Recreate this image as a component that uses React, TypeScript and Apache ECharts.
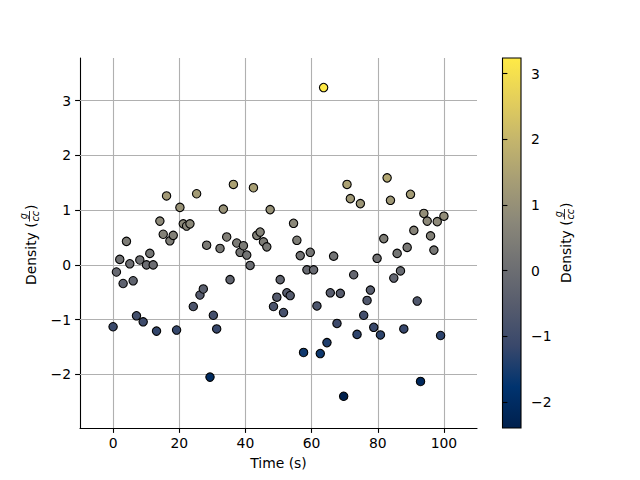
import React, { useEffect, useRef } from "react";
import * as echarts from "echarts";

const densityValues: number[] = [
  -1.13, -0.13, 0.10, -0.34, 0.43, 0.02, -0.29, -0.93, 0.09, -1.04,
  0.00, 0.21, 0.00, -1.21, 0.80, 0.56, 1.26, 0.44, 0.54, -1.19,
  1.05, 0.75, 0.71, 0.75, -0.76, 1.30, -0.55, -0.44, 0.36, -2.05,
  -0.92, -1.17, 0.30, 1.02, 0.51, -0.27, 1.47, 0.40, 0.23, 0.35,
  0.18, -0.01, 1.41, 0.54, 0.60, 0.42, 0.33, 1.01, -0.76, -0.59,
  -0.27, -0.87, -0.51, -0.56, 0.76, 0.45, 0.17, -1.60, -0.09, 0.23,
  -0.09, -0.75, -1.62, 3.24, -1.42, -0.51, 0.16, -1.07, -0.52, -2.40,
  1.47, 1.21, -0.18, -1.27, 1.12, -0.92, -0.65, -0.46, -1.14, 0.12,
  -1.28, 0.48, 1.59, 1.18, -0.24, 0.21, -0.11, -1.17, 0.32, 1.29,
  0.63, -0.66, -2.13, 0.94, 0.80, 0.53, 0.27, 0.79, -1.29, 0.89,
];
// time samples: 100 evenly spaced samples from 0 to 100 s
const timeValues: number[] = densityValues.map((_, i) => (i * 100) / 99);

const xTicks: number[] = [0, 20, 40, 60, 80, 100];
const yTicks: number[] = [-2, -1, 0, 1, 2, 3];
const cbarTicks: number[] = [-2, -1, 0, 1, 2, 3];

const cividis: string[] = [
  "#00204D", "#00336F", "#39486B", "#575C6D", "#707173",
  "#8A8779", "#A69D75", "#C4B56C", "#E4CF5B", "#FFEA46",
];

const FONT = "DejaVu Sans";
const FS = 13.9;

const fmt = (v: number) => String(v).replace("-", "\u2212");

function labelGroup(x: number, y: number) {
  const small = 9.7;
  return {
    type: "group",
    x,
    y,
    rotation: Math.PI / 2,
    silent: true,
    children: [
      {
        type: "text",
        x: 0,
        y: 0,
        style: {
          text: "Density (",
          font: `${FS}px "${FONT}"`,
          fill: "#000",
          textAlign: "left",
          align: "left",
          textVerticalAlign: "middle",
          verticalAlign: "middle",
        },
      },
      {
        type: "text",
        x: 68.8,
        y: -2.2,
        style: {
          text: "g",
          font: `italic ${small}px "${FONT}"`,
          fill: "#000",
          textAlign: "center",
          align: "center",
          textVerticalAlign: "bottom",
          verticalAlign: "bottom",
        },
      },
      {
        type: "line",
        shape: { x1: 63.5, y1: -1.5, x2: 74, y2: -1.5 },
        style: { stroke: "#000", lineWidth: 0.8 },
      },
      {
        type: "text",
        x: 68.8,
        y: -0.6,
        style: {
          text: "cc",
          font: `italic ${small}px "${FONT}"`,
          fill: "#000",
          textAlign: "center",
          align: "center",
          textVerticalAlign: "top",
          verticalAlign: "top",
        },
      },
      {
        type: "text",
        x: 75,
        y: 0,
        style: {
          text: ")",
          font: `${FS}px "${FONT}"`,
          fill: "#000",
          textAlign: "left",
          align: "left",
          textVerticalAlign: "middle",
          verticalAlign: "middle",
        },
      },
    ],
  };
}

export default function App() {
  const ref = useRef<HTMLDivElement>(null);
  useEffect(() => {
    if (!ref.current) return;
    const chart = echarts.init(ref.current, null, { renderer: "svg" });
    const vmin = Math.min(...densityValues);
    const vmax = Math.max(...densityValues);
    const stops = cividis.map((c, i) => ({ offset: i / (cividis.length - 1), color: c }));
    const axisLine = { show: true, onZero: false, lineStyle: { color: "#000", width: 1.1 } };
    const tickStyle = { color: "#000", width: 1.1 };
    const labelStyle = { color: "#000", fontSize: FS, fontFamily: FONT };

    const option: any = {
      animation: false,
      backgroundColor: "#fff",
      textStyle: { fontFamily: FONT },
      grid: [
        { left: 80, top: 58, width: 397, height: 370 },
        {
          left: 502.5,
          top: 58,
          width: 18.5,
          height: 370,
          show: true,
          backgroundColor: new echarts.graphic.LinearGradient(0, 1, 0, 0, stops),
          borderColor: "#000",
          borderWidth: 1.1,
        },
      ],
      xAxis: [
        {
          gridIndex: 0,
          type: "value",
          min: -10,
          max: 110,
          axisLine,
          axisTick: { show: true, customValues: xTicks, length: 4.9, lineStyle: tickStyle },
          axisLabel: { ...labelStyle, customValues: xTicks, margin: 8, formatter: fmt },
          splitLine: { show: false },
          name: "Time (s)",
          nameLocation: "middle",
          nameGap: 28,
          nameTextStyle: { color: "#000", fontSize: FS, fontFamily: FONT },
        },
        { gridIndex: 1, type: "value", min: 0, max: 1, show: false },
      ],
      yAxis: [
        {
          gridIndex: 0,
          type: "value",
          min: -2.98,
          max: 3.78,
          axisLine,
          axisTick: { show: true, customValues: yTicks, length: 4.9, lineStyle: tickStyle },
          axisLabel: { ...labelStyle, customValues: yTicks, margin: 9, formatter: fmt },
          splitLine: { show: false },
        },
        {
          gridIndex: 1,
          type: "value",
          position: "right",
          min: vmin,
          max: vmax,
          axisLine: { show: false },
          axisTick: { show: true, customValues: cbarTicks, length: 4.9, lineStyle: tickStyle },
          axisLabel: { ...labelStyle, customValues: cbarTicks, margin: 10, formatter: fmt },
          splitLine: { show: false },
        },
      ],
      visualMap: {
        type: "continuous",
        show: false,
        seriesIndex: 0,
        dimension: 1,
        min: vmin,
        max: vmax,
        inRange: { color: cividis },
      },
      series: [
        {
          type: "scatter",
          xAxisIndex: 0,
          yAxisIndex: 0,
          z: 3,
          symbol: "circle",
          symbolSize: 8.4,
          itemStyle: { borderColor: "#000", borderWidth: 1.1, opacity: 1 },
          data: timeValues.map((t, i) => [t, densityValues[i]]),
          markLine: {
            silent: true,
            z: 1,
            symbol: "none",
            animation: false,
            label: { show: false },
            lineStyle: { color: "#b0b0b0", width: 1.1, type: "solid" },
            emphasis: { disabled: true },
            data: [
              ...xTicks.map((v) => ({ xAxis: v })),
              ...yTicks.map((v) => ({ yAxis: v })),
            ],
          },
        },
      ],
      graphic: [labelGroup(31, 285), labelGroup(566, 283)],
    };
    chart.setOption(option);
    return () => chart.dispose();
  }, []);
  return (
    <div
      ref={ref}
      style={{ position: "absolute", left: 0, top: 0, width: 640, height: 480 }}
    />
  );
}
